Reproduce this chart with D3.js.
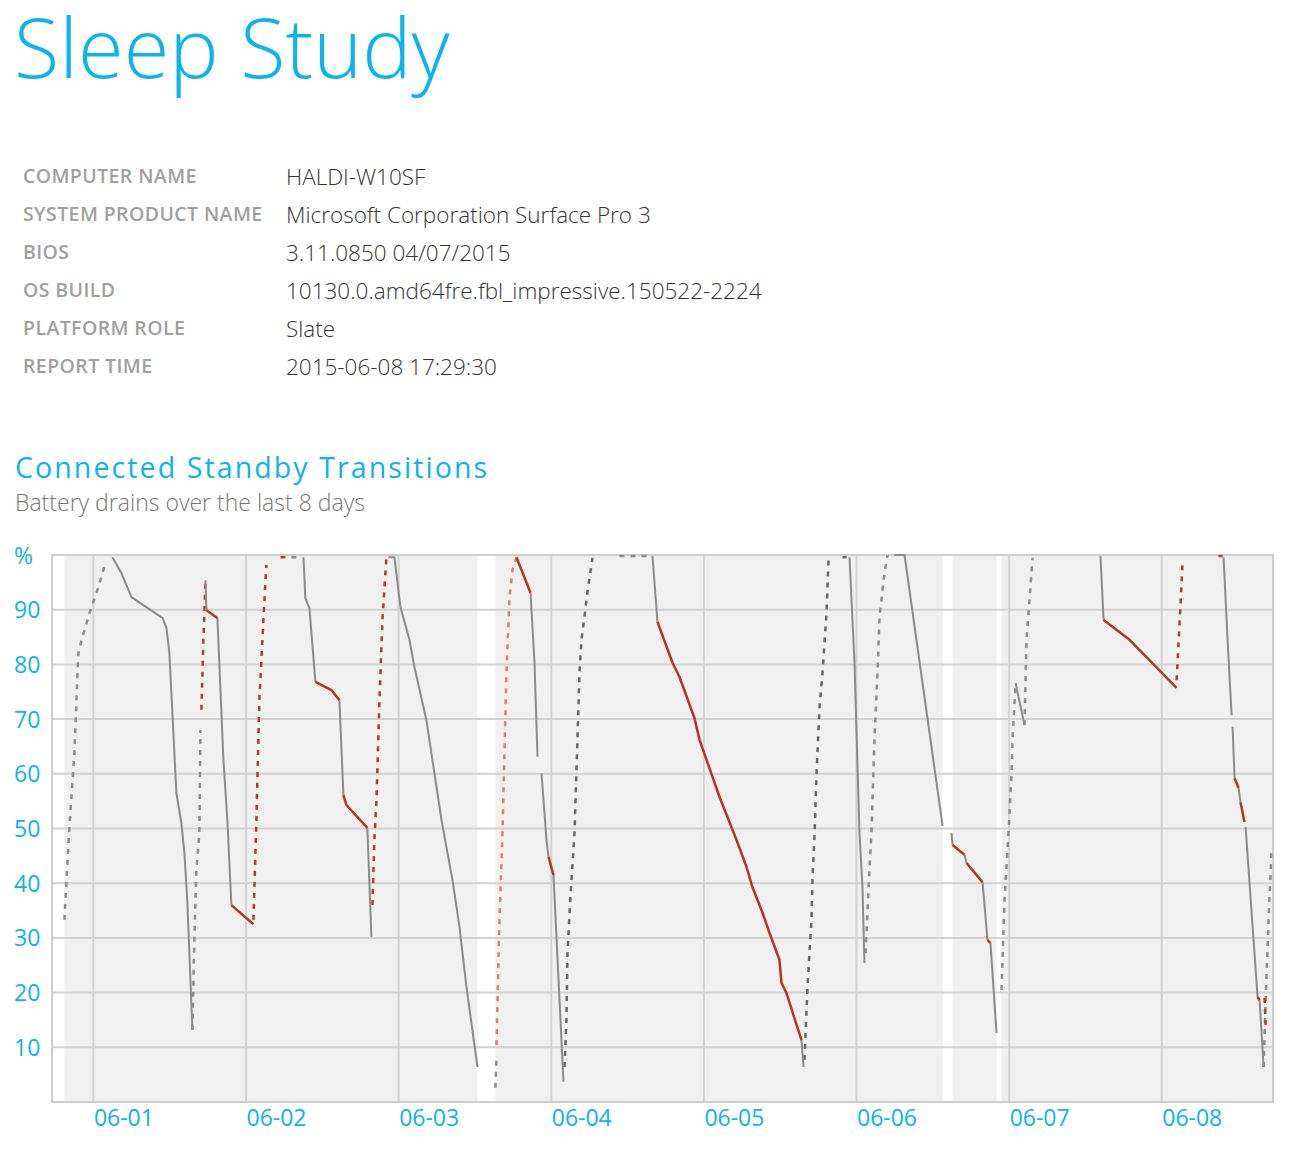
<!DOCTYPE html>
<html>
<head>
<meta charset="utf-8">
<script src="https://cdn.jsdelivr.net/npm/d3@7"></script>
<style>
  body { margin: 0; background: #fff; }
  svg text { font-family: "Open Sans", "Noto Sans", sans-serif; }
</style>
</head>
<body>
<svg id="page"></svg>
<script>
// report header
const infoLabels = ["COMPUTER NAME", "SYSTEM PRODUCT NAME", "BIOS", "OS BUILD", "PLATFORM ROLE", "REPORT TIME"];
const infoValues = ["HALDI-W10SF", "Microsoft Corporation Surface Pro 3", "3.11.0850 04/07/2015",
  "10130.0.amd64fre.fbl_impressive.150522-2224", "Slate", "2015-06-08 17:29:30"];

// chart range and ticks
const chartStart = "05-31 17:29:30";
const chartEnd = "06-08 17:29:30";
const pctTicks = [100, 90, 80, 70, 60, 50, 40, 30, 20, 10];
const gridPct = [90, 80, 70, 60, 50, 40, 30, 20, 10];

// periods with no data (white)
const gaps = [
  ["05-31 17:29", "05-31 19:26"],
  ["06-03 12:24", "06-03 15:13"],
  ["06-06 13:32", "06-06 15:06"],
  ["06-06 22:01", "06-06 22:48"]
];

// battery drain while active (solid gray)
const activeDrain = [
  [["06-01 02:59",99.6],["06-01 04:24",96.7],["06-01 05:59",92.3],["06-01 10:51",88.5],["06-01 11:29",86.7],["06-01 11:57",82.1],["06-01 13:03",56.5],["06-01 13:50",51.0],["06-01 14:19",45.5],["06-01 14:47",36.4],["06-01 15:34",13.2]],
  [["06-01 17:37",95.4],["06-01 17:46",89.9]],
  [["06-01 19:30",88.5],["06-01 20:27",62.5],["06-01 21:04",51.6],["06-01 21:42",36.0]],
  [["06-02 09:02",99.6],["06-02 09:20",92.1],["06-02 09:58",90.3],["06-02 10:55",76.8]],
  [["06-02 14:41",73.5],["06-02 15:19",56.1]],
  [["06-02 19:05",50.1],["06-02 19:43",30.2]],
  [["06-02 22:24",99.6],["06-02 23:20",99.6],["06-03 00:17",90.5],["06-03 01:42",84.5],["06-03 02:29",79.5],["06-03 04:22",69.8],["06-03 06:44",51.6],["06-03 07:31",46.6],["06-03 08:28",40.6],["06-03 09:34",32.0],["06-03 10:40",21.0],["06-03 12:24",6.4]],
  [["06-03 20:44",93.1],["06-03 21:22",80.3],["06-03 21:50",63.1]],
  [["06-03 22:28",60.1],["06-03 23:15",47.9],["06-03 23:34",44.8]],
  [["06-04 00:21",41.5],["06-04 01:55",3.7]],
  [["06-04 15:55",99.8],["06-04 16:42",87.8]],
  [["06-05 15:21",11.3],["06-05 15:40",6.4]],
  [["06-05 22:54",99.6],["06-05 23:41",80.3],["06-06 00:28",49.2],["06-06 00:56",39.3],["06-06 01:15",25.4]],
  [["06-06 05:59",100],["06-06 07:33",100],["06-06 13:32",50.5]],
  [["06-06 14:56",49.2],["06-06 15:06",47.0]],
  [["06-06 16:59",45.2],["06-06 17:18",43.7]],
  [["06-06 19:49",40.2],["06-06 20:36",29.6]],
  [["06-06 21:04",29.1],["06-06 22:01",12.6]],
  [["06-07 01:01",76.6],["06-07 02:25",68.9]],
  [["06-07 14:22",99.8],["06-07 14:51",88.1]],
  [["06-08 09:43",99.6],["06-08 10:21",84.5],["06-08 10:59",70.7]],
  [["06-08 11:08",68.6],["06-08 11:27",59.2]],
  [["06-08 12:05",57.4],["06-08 12:23",54.8]],
  [["06-08 13:11",50.3],["06-08 15:04",19.2]],
  [["06-08 15:23",18.6],["06-08 16:01",6.4]]
];

// battery drain in connected standby (solid red)
const standbyDrain = [
  [["06-01 17:46",89.9],["06-01 19:30",88.5]],
  [["06-01 21:42",36.0],["06-02 01:10",32.5]],
  [["06-02 10:55",76.8],["06-02 13:26",75.3],["06-02 14:41",73.5]],
  [["06-02 15:19",56.1],["06-02 15:47",54.3],["06-02 19:05",50.1]],
  [["06-03 18:32",99.6],["06-03 20:44",93.1]],
  [["06-03 23:34",44.8],["06-04 00:21",41.5]],
  [["06-04 16:42",87.8],["06-04 19:04",80.3],["06-04 20:10",77.7],["06-04 22:31",70.2],["06-04 23:19",66.2],["06-05 02:27",55.8],["06-05 05:08",47.9],["06-05 06:42",43.0],["06-05 07:38",39.3],["06-05 09:13",34.6],["06-05 10:19",30.9],["06-05 11:53",26.0],["06-05 12:12",21.8],["06-05 12:59",19.9],["06-05 15:21",11.3]],
  [["06-06 15:06",47.0],["06-06 16:59",45.2]],
  [["06-06 17:18",43.7],["06-06 19:49",40.2]],
  [["06-06 20:36",29.6],["06-06 21:04",29.1]],
  [["06-07 14:51",88.1],["06-07 18:56",84.5],["06-08 02:20",75.7]],
  [["06-08 11:27",59.2],["06-08 12:05",57.4]],
  [["06-08 12:23",54.8],["06-08 13:01",51.2]],
  [["06-08 15:04",19.2],["06-08 15:23",18.6]]
];

// charging while active (dashed gray)
const chargeActive = [
  [["05-31 19:26",33.3],["05-31 20:13",50.1],["05-31 21:01",63.8],["05-31 21:38",82.1],["05-31 22:16",85.0],["05-31 23:32",89.9],["06-01 00:38",93.6],["06-01 01:53",98.5]],
  [["06-01 15:34",13.2],["06-01 15:53",30.2],["06-01 16:12",42.4],["06-01 16:40",49.2],["06-01 16:50",68.0]],
  [["06-02 07:08",99.6],["06-02 08:52",99.6]],
  [["06-03 15:13",2.6],["06-03 15:23",8.0]],
  [["06-04 10:44",99.8],["06-04 15:55",99.8]],
  [["06-06 01:25",27.2],["06-06 02:03",43.0],["06-06 02:22",49.7],["06-06 02:50",66.7],["06-06 03:18",78.4],["06-06 03:37",88.7],["06-06 04:24",96.7],["06-06 04:53",100]],
  [["06-06 22:48",20.5],["06-06 23:16",36.9],["06-06 23:54",49.2],["06-07 00:23",60.1],["06-07 00:32",66.2],["06-07 01:01",76.6]],
  [["06-07 02:25",68.9],["06-07 02:44",84.5],["06-07 03:12",91.8],["06-07 03:41",99.5]],
  [["06-08 16:01",6.4],["06-08 16:20",18.6],["06-08 16:48",33.3],["06-08 17:16",46.1]]
];

// charging, darker gray dashes
const chargeDark = [
  [["06-04 02:05",6.4],["06-04 02:23",15.0],["06-04 02:33",27.2],["06-04 03:01",37.5],["06-04 03:39",49.2],["06-04 04:07",66.2],["06-04 04:26",78.4],["06-04 04:45",84.5],["06-04 05:13",88.7],["06-04 05:41",93.1],["06-04 06:29",99.5]],
  [["06-05 15:49",7.7],["06-05 16:17",21.0],["06-05 16:36",27.2],["06-05 16:55",33.3],["06-05 17:05",41.0],["06-05 17:23",48.4],["06-05 17:43",60.1],["06-05 18:11",72.2],["06-05 18:39",78.4],["06-05 19:17",89.4],["06-05 19:36",99.1]],
  [["06-05 21:48",99.6],["06-05 22:26",99.6]]
];

// charging in standby (dashed red)
const chargeStandby = [
  [["06-01 16:59",71.7],["06-01 17:18",84.5],["06-01 17:37",94.9]],
  [["06-02 01:10",33.3],["06-02 01:38",51.6],["06-02 02:06",73.5],["06-02 02:44",88.1],["06-02 03:12",98.2]],
  [["06-02 05:25",99.6],["06-02 06:31",99.6]],
  [["06-02 19:53",36.0],["06-02 20:11",47.9],["06-02 20:31",55.2],["06-02 20:59",73.5],["06-02 21:27",88.1],["06-02 22:05",99.6]],
  [["06-08 02:20",77.1],["06-08 02:48",87.6],["06-08 03:16",98.5]],
  [["06-08 08:56",99.8],["06-08 09:34",99.8]],
  [["06-08 16:10",19.0],["06-08 16:20",14.1]]
];

// charging, light red dashes
const chargeLight = [
  [["06-03 15:23",10.4],["06-03 15:51",33.3],["06-03 16:19",48.8],["06-03 16:57",78.4],["06-03 17:26",92.3],["06-03 17:54",97.3],["06-03 18:32",99.5]]
];

const W = 1297, H = 1151;
const blue = "#0db2f0";
const svg = d3.select("#page").attr("width", W).attr("height", H);

svg.append("text")
  .attr("x", 14).attr("y", 78)
  .attr("fill", blue)
  .style("font-size", "83px").style("font-weight", 300)
  .text("Sleep Study");

const rows = svg.append("g");
infoLabels.forEach((l, i) => {
  const ty = 183 + i * 38;
  rows.append("text").attr("x", 23).attr("y", ty)
    .attr("fill", "#a0a0a0").style("font-size", "19.5px").style("font-weight", 600)
    .style("letter-spacing", "0.4px")
    .text(l);
  rows.append("text").attr("x", 286).attr("y", ty + 2)
    .attr("fill", "#333").style("font-size", "22.5px").style("font-weight", 300)
    .text(infoValues[i]);
});

svg.append("text").attr("x", 15).attr("y", 478)
  .attr("fill", blue).style("font-size", "28.5px").style("letter-spacing", "2.1px")
  .text("Connected Standby Transitions");
svg.append("text").attr("x", 15).attr("y", 511)
  .attr("fill", "#777").style("font-size", "23px").style("font-weight", 300)
  .text("Battery drains over the last 8 days");

// chart
const parse = d3.timeParse("%Y-%m-%d %H:%M:%S");
const t = s => parse("2015-" + s + (s.length === 11 ? ":00" : ""));
const plotL = 52, plotR = 1273, plotT = 555, plotB = 1102;

const x = d3.scaleTime().domain([t(chartStart), t(chartEnd)]).range([plotL, plotR]);
const y = d3.scaleLinear().domain([0, 100]).range([plotB, plotT]);
const days = x.ticks(d3.timeDay.every(1));

svg.append("rect").attr("x", plotL).attr("y", plotT)
  .attr("width", plotR - plotL).attr("height", plotB - plotT)
  .attr("fill", "#f0f0f0");

svg.selectAll(".gap").data(gaps).enter().append("rect")
  .attr("class", "gap")
  .attr("x", d => x(t(d[0])))
  .attr("y", plotT)
  .attr("width", d => x(t(d[1])) - x(t(d[0])))
  .attr("height", plotB - plotT)
  .attr("fill", "#fff");

svg.selectAll(".hgrid").data(gridPct).enter().append("line")
  .attr("x1", plotL).attr("x2", plotR)
  .attr("y1", d => y(d)).attr("y2", d => y(d))
  .attr("stroke", "#d2d2d2").attr("stroke-width", 2);

svg.selectAll(".vgrid").data(days).enter().append("line")
  .attr("x1", d => x(d)).attr("x2", d => x(d))
  .attr("y1", plotT).attr("y2", plotB)
  .attr("stroke", "#d2d2d2").attr("stroke-width", 2);

svg.append("rect").attr("x", plotL).attr("y", plotT)
  .attr("width", plotR - plotL).attr("height", plotB - plotT)
  .attr("fill", "none").attr("stroke", "#cdcdcd").attr("stroke-width", 2);

const line = d3.line().x(d => x(t(d[0]))).y(d => y(d[1]));

function drawPaths(data, color, width, dash) {
  svg.append("g").selectAll("path").data(data).enter().append("path")
    .attr("d", line)
    .attr("fill", "none")
    .attr("stroke", color)
    .attr("stroke-width", width)
    .attr("stroke-dasharray", dash)
    .attr("stroke-linejoin", "round");
}

drawPaths(chargeActive, "#8c8c8c", 2.5, "5,6");
drawPaths(chargeDark, "#626a64", 2.5, "5,6");
drawPaths(chargeStandby, "#b83a26", 2.5, "5,6");
drawPaths(chargeLight, "#d8826a", 2.5, "5,6");
drawPaths(activeDrain, "#8a8a8a", 2, null);
drawPaths(standbyDrain, "#b3361f", 2.5, null);

// axes
const yAxis = d3.axisLeft(y).tickValues(pctTicks).tickSize(0)
  .tickFormat(d => d === 100 ? "%" : d);
const gy = svg.append("g").attr("transform", `translate(${plotL},0)`).call(yAxis);
gy.select(".domain").remove();
gy.selectAll("text")
  .attr("x", 14 - plotL).attr("dy", "0.35em")
  .attr("text-anchor", "start")
  .attr("fill", blue)
  .style("font-size", "23px");

const xAxis = d3.axisBottom(x).tickValues(days).tickSize(0)
  .tickFormat(d3.timeFormat("%m-%d"));
const gx = svg.append("g").attr("transform", `translate(0,${plotB})`).call(xAxis);
gx.select(".domain").remove();
gx.selectAll("text")
  .attr("y", 16).attr("dy", "0.35em")
  .attr("text-anchor", "start")
  .attr("fill", blue)
  .style("font-size", "23px");
</script>
</body>
</html>
